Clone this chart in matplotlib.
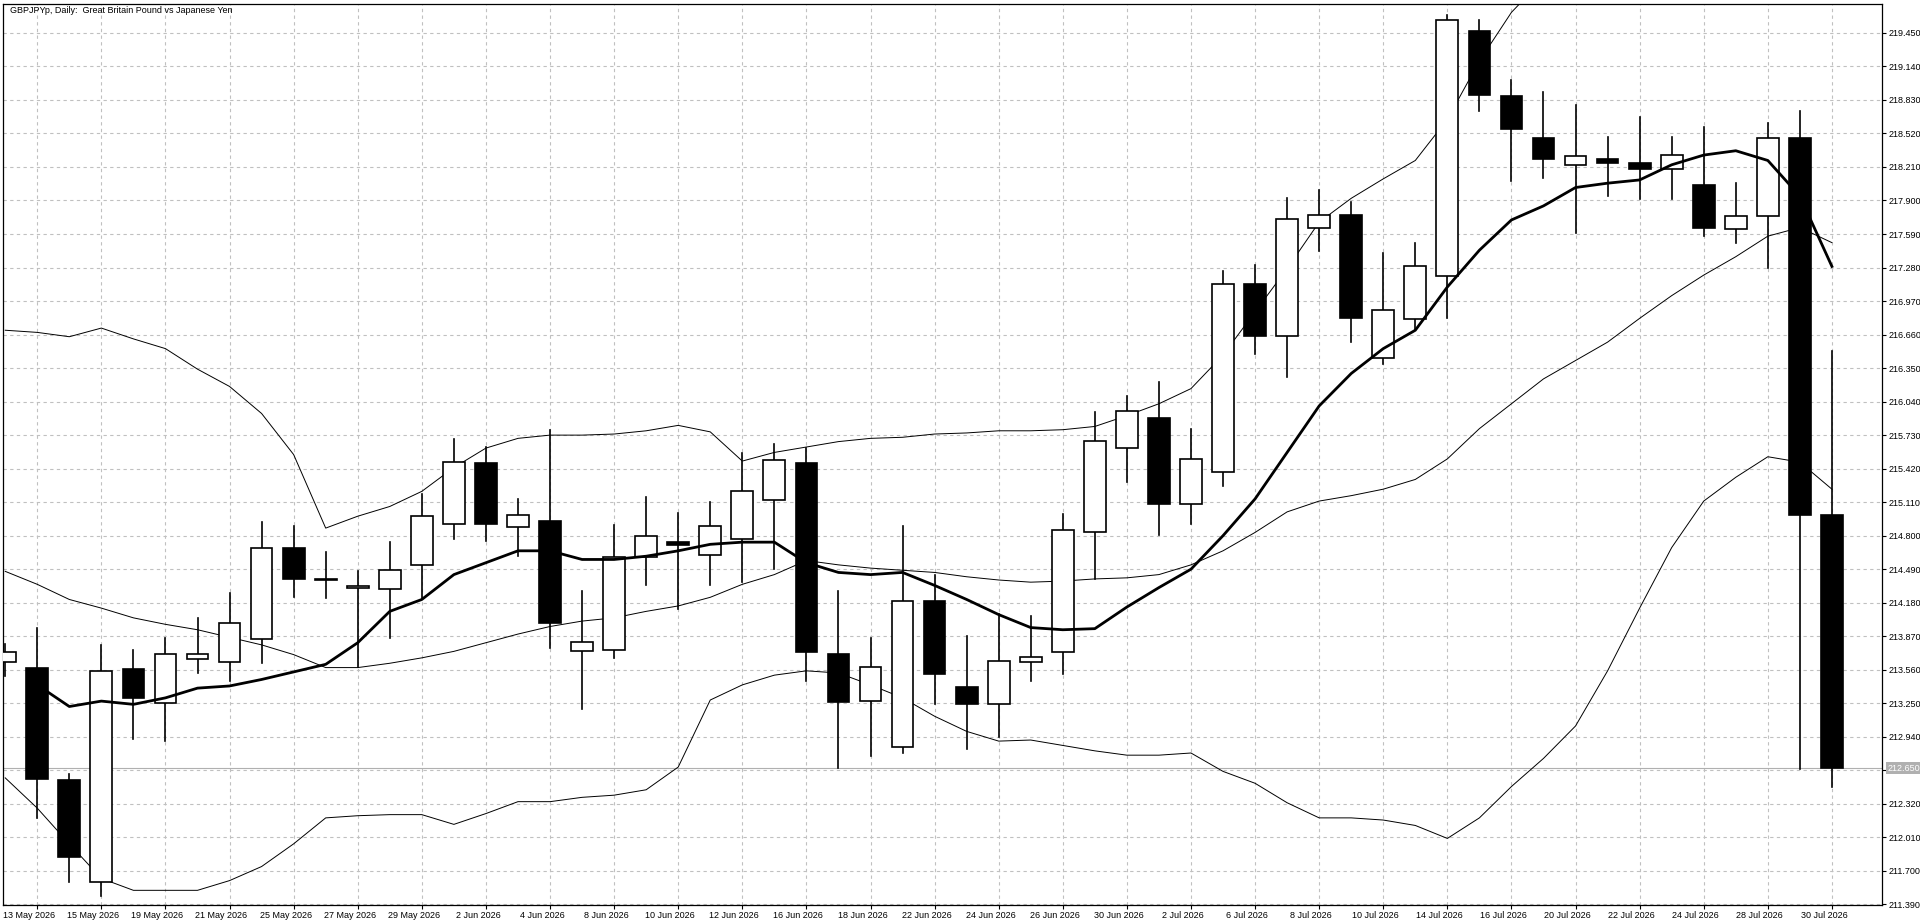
import matplotlib
matplotlib.use("Agg")
import matplotlib.pyplot as plt
from matplotlib.patches import Rectangle
from matplotlib.transforms import ScaledTranslation
import numpy as np

plt.rcParams['font.family'] = ['Liberation Sans', 'DejaVu Sans']

dates = ["12 May","13 May","14 May","15 May","18 May","19 May","20 May","21 May","22 May","25 May",
 "26 May","27 May","28 May","29 May","1 Jun","2 Jun","3 Jun","4 Jun","5 Jun","8 Jun",
 "9 Jun","10 Jun","11 Jun","12 Jun","15 Jun","16 Jun","17 Jun","18 Jun","19 Jun","22 Jun",
 "23 Jun","24 Jun","25 Jun","26 Jun","29 Jun","30 Jun","1 Jul","2 Jul","3 Jul","6 Jul",
 "7 Jul","8 Jul","9 Jul","10 Jul","13 Jul","14 Jul","15 Jul","16 Jul","17 Jul","20 Jul",
 "21 Jul","22 Jul","23 Jul","24 Jul","27 Jul","28 Jul","29 Jul","30 Jul"]
opens = [213.63,213.575,212.54,211.60,213.57,213.25,213.66,213.63,213.84,214.69,
 214.40,214.32,214.31,214.53,214.91,215.47,214.88,214.94,213.73,213.74,
 214.60,214.74,214.62,214.77,215.13,215.47,213.71,213.27,212.85,214.20,
 213.40,213.24,213.63,213.72,214.83,215.61,215.89,215.09,215.39,217.13,
 216.65,217.65,217.77,216.44,216.80,217.20,219.47,218.87,218.48,218.23,
 218.28,218.25,218.19,218.04,217.64,217.76,218.48,214.99]
highs = [213.80,213.95,212.60,213.79,213.74,213.85,214.04,214.27,214.93,214.89,
 214.65,214.47,214.74,215.19,215.69,215.62,215.14,215.78,214.29,214.90,
 215.16,215.01,215.11,215.56,215.65,215.61,214.29,213.85,214.89,214.44,
 213.87,214.08,214.06,215.00,215.94,216.09,216.22,215.79,217.25,217.30,
 217.92,218.00,217.89,217.41,217.51,219.62,219.57,219.01,218.90,218.78,
 218.49,218.67,218.49,218.58,218.06,218.62,218.73,216.51]
lows = [213.50,212.19,211.60,211.47,212.92,212.90,213.53,213.46,213.62,214.23,
 214.22,213.59,213.85,214.21,214.77,214.75,214.61,213.76,213.20,213.67,
 214.34,214.12,214.34,214.37,214.49,213.46,212.65,212.76,212.79,213.24,
 212.83,212.94,213.46,213.52,214.40,215.30,214.81,214.91,215.26,216.48,
 216.27,217.43,216.59,216.39,216.70,216.81,218.73,218.08,218.11,217.60,
 217.94,217.91,217.91,217.57,217.51,217.28,212.64,212.48]
closes = [213.72,212.545,211.83,213.55,213.30,213.71,213.71,213.99,214.69,214.40,
 214.39,214.33,214.48,214.98,215.48,214.91,214.99,213.99,213.82,214.60,
 214.80,214.71,214.89,215.21,215.50,213.72,213.26,213.59,214.20,213.52,
 213.24,213.64,213.68,214.85,215.68,215.95,215.09,215.51,217.13,216.65,
 217.73,217.77,216.81,216.89,217.29,219.57,218.88,218.56,218.28,218.31,
 218.25,218.19,218.32,217.65,217.76,218.48,214.99,212.65]
ma_fast = [np.nan,213.42,213.22,213.27,213.24,213.30,213.39,213.41,213.47,213.54,
 213.61,213.81,214.10,214.21,214.44,214.55,214.66,214.66,214.58,214.58,
 214.61,214.66,214.72,214.74,214.74,214.55,214.46,214.44,214.46,214.34,
 214.21,214.07,213.95,213.93,213.94,214.14,214.32,214.49,214.80,215.14,
 215.57,216.00,216.30,216.53,216.70,217.10,217.44,217.72,217.85,218.02,
 218.06,218.09,218.23,218.32,218.36,218.27,217.94,217.29]
bb_mid = [214.47,214.35,214.21,214.13,214.04,213.98,213.93,213.86,213.79,213.70,
 213.58,213.58,213.62,213.67,213.73,213.81,213.89,213.96,214.01,214.04,
 214.10,214.15,214.23,214.35,214.44,214.57,214.53,214.50,214.48,214.46,
 214.42,214.39,214.37,214.38,214.40,214.41,214.44,214.53,214.66,214.83,
 215.02,215.12,215.17,215.23,215.32,215.51,215.79,216.02,216.25,216.42,
 216.59,216.81,217.02,217.21,217.38,217.57,217.65,217.51]
bb_up = [216.70,216.68,216.64,216.72,216.62,216.53,216.34,216.18,215.93,215.55,
 214.87,214.98,215.07,215.21,215.43,215.61,215.70,215.73,215.73,215.74,
 215.77,215.82,215.76,215.49,215.57,215.62,215.67,215.70,215.71,215.74,
 215.75,215.77,215.77,215.78,215.81,215.91,216.02,216.16,216.47,216.87,
 217.27,217.70,217.92,218.10,218.27,218.65,219.19,219.64,219.95,220.15,
 220.25,220.30,220.30,220.25,220.10,219.95,219.85,219.80]
bb_low = [212.56,212.28,211.95,211.63,211.52,211.52,211.52,211.61,211.74,211.95,
 212.19,212.21,212.22,212.22,212.13,212.23,212.34,212.34,212.38,212.40,
 212.45,212.66,213.28,213.42,213.51,213.55,213.53,213.42,213.30,213.13,
 212.99,212.90,212.91,212.86,212.81,212.77,212.77,212.79,212.62,212.51,
 212.33,212.19,212.19,212.17,212.12,212.00,212.19,212.48,212.74,213.04,
 213.55,214.13,214.69,215.12,215.34,215.53,215.48,215.23]
last_price = 212.65
yticks = [211.390 + 0.31 * k for k in range(27)]

fig = plt.figure(figsize=(19.2, 9.23), dpi=100)
ax = fig.add_axes([0.0015, 0.019, 0.9785, 0.977])
x = np.arange(len(dates))
w = 0.68
for i in x:
    o, h, l, c = opens[i], highs[i], lows[i], closes[i]
    ax.plot([i, i], [l, h], color="black", lw=1.2, zorder=3)
    bot, top = min(o, c), max(o, c)
    hgt = max(top - bot, 0.012)
    fc = "white" if c >= o else "black"
    ax.add_patch(Rectangle((i - w / 2, bot), w, hgt, facecolor=fc, edgecolor="black", lw=1.2, zorder=4))
ax.plot(x, bb_up, color="black", lw=0.7, zorder=2)
ax.plot(x, bb_mid, color="black", lw=0.7, zorder=2)
ax.plot(x, bb_low, color="black", lw=0.7, zorder=2)
ax.plot(x, ma_fast, color="black", lw=2.0, zorder=5)
ax.axhline(last_price, color="#b0b0b0", lw=0.8, zorder=1)

ax.set_xlim(-0.073, 58.55)
ax.set_ylim(211.38, 219.72)
ax.set_yticks(yticks)
ax.set_yticklabels([f"{v:.3f}" for v in yticks], fontsize=6.5)
ax.yaxis.tick_right()
ax.tick_params(axis="y", length=3, pad=2)
ticks = x[1::2]
ax.set_xticks(ticks)
ax.set_xticklabels([dates[i] + " 2026" for i in ticks], fontsize=6.5)
ax.tick_params(axis="x", length=3, pad=1)
off = ScaledTranslation(-0.08, 0, fig.dpi_scale_trans)
for lab in ax.get_xticklabels():
    lab.set_transform(lab.get_transform() + off)
ax.grid(True, color="#c0c0c0", ls=(0, (3, 3)), lw=0.8)
ax.set_axisbelow(True)
for s in ax.spines.values():
    s.set_linewidth(0.9)
ax.text(0.004, 0.997, "GBPJPYp, Daily:  Great Britain Pound vs Japanese Yen", transform=ax.transAxes,
        fontsize=6.5, va="top", ha="left")
ax.text(1.003, last_price, f"{last_price:.3f}", transform=ax.get_yaxis_transform(), fontsize=6.5,
        va="center", ha="left", color="white", bbox=dict(facecolor="#b0b0b0", edgecolor="none", pad=1))
fig.savefig("out.png", dpi=100)
